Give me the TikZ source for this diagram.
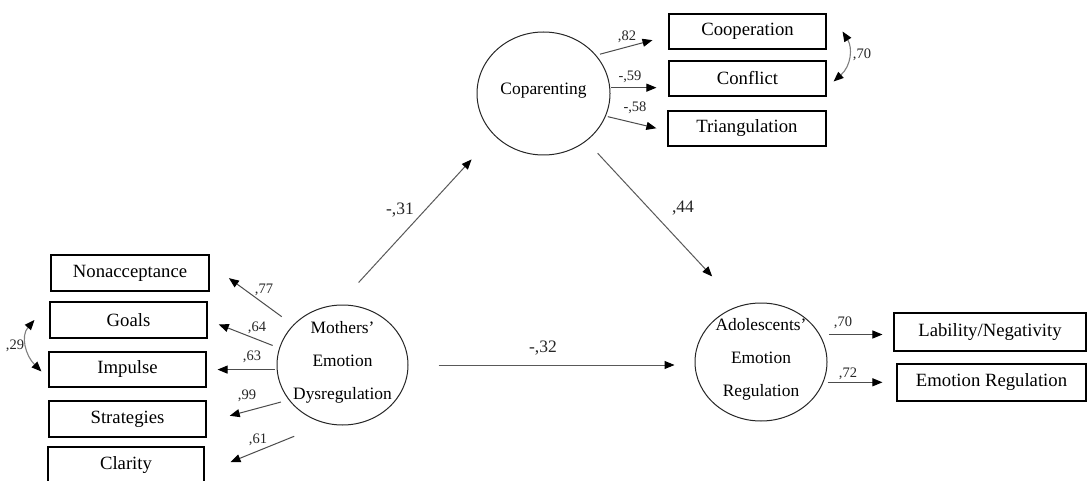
\documentclass[tikz,border=0pt]{standalone}
\usepackage{fontspec}
\setmainfont{Liberation Serif}
\usepackage{tikz}
\usetikzlibrary{shapes.geometric,arrows.meta}
\tikzset{>={Triangle[width=8pt,length=10pt,color=black]}}
\tikzset{
  obsbox/.style={shape=rectangle,draw=black,line width=1.1pt,minimum height=36pt,minimum width=157pt,inner sep=0pt,font=\fontsize{18.7}{22}\selectfont},
  latent/.style={shape=ellipse,draw=black!85,line width=1pt,inner sep=0pt},
  latentxt/.style={inner sep=0pt,align=center,font=\fontsize{17.4}{33}\selectfont},
  coefsmall/.style={inner sep=0pt,text=black!85,font=\fontsize{14.5}{16}\selectfont},
  coefbig/.style={inner sep=0pt,text=black!85,font=\fontsize{17.5}{20}\selectfont},
  loadarrow/.style={->,draw=black!70,line width=1pt},
  structarrow/.style={->,draw=black!65,line width=1pt},
  covarrow/.style={<->,draw=black!50,line width=1.1pt}
}

\begin{document}
\begin{tikzpicture}[x=1pt,y=-1pt]

\useasboundingbox (0,0) rectangle (1087,481);
\clip (0,0) rectangle (1087,481);
\fill[white] (0,0) rectangle (1087,481);

% latent variables
\path (342.5,365) node [latent,minimum width=131pt,minimum height=120pt,label={[latentxt,yshift=3pt]center:Mothers'\\Emotion\\Dysregulation}] (mdr) {};

\path (543.5,93.5) node [latent,minimum width=133pt,minimum height=123pt,label={[latentxt,yshift=3pt]center:Coparenting}] (cop) {};

\path (761,362) node [latent,minimum width=132pt,minimum height=118pt,label={[latentxt,yshift=3pt]center:Adolescents'\\Emotion\\Regulation}] (adol) {};

% indicators
\path (130,273) node [obsbox,minimum width=158pt] (nonacc) {Nonacceptance};

\path (128.5,320) node [obsbox] (goals) {Goals};

\path (127.5,369.5) node [obsbox,minimum height=35pt] (imp) {Impulse};

\path (127.5,419) node [obsbox] (strat) {Strategies};

\path (126,465) node [obsbox,minimum width=156pt] (clar) {Clarity};

\path (747.5,31.5) node [obsbox,minimum height=35pt] (coop) {Cooperation};

\path (747.5,78.5) node [obsbox,minimum height=35pt] (conf) {Conflict};

\path (747,128.5) node [obsbox,minimum width=158pt,minimum height=35pt] (tri) {Triangulation};

\path (990,332) node [obsbox,minimum width=192pt,minimum height=38pt] (lab) {Lability/Negativity};

\path (991.5,382.5) node [obsbox,minimum width=189pt,minimum height=37pt] (er) {Emotion Regulation};

% loadings
\draw[loadarrow,shorten <=14pt,shorten >=24pt] (mdr.141.6) -- ([yshift=9pt]nonacc.east);
\draw[loadarrow,shorten <=7pt,shorten >=12pt] (mdr.165.3) -- (goals.east);
\draw[loadarrow,shorten <=2pt,shorten >=11pt] (mdr.184.4) -- (mdr.184.4 -| imp.east);
\draw[loadarrow,shorten <=8pt,shorten >=24pt] (mdr.213.4) -- ([yshift=-3pt]strat.east);
\draw[loadarrow,shorten <=34pt,shorten >=28pt] (mdr.254.2) -- ([yshift=-7.6pt]clar.east);

\draw[loadarrow,shorten <=4pt,shorten >=16.5pt] (cop.36.1) -- ([yshift=-4.4pt]coop.west);
\draw[loadarrow,shorten <=1pt,shorten >=12pt] (cop.5.2) -- (cop.5.2 -| conf.west);
\draw[loadarrow,shorten <=2pt,shorten >=11.4pt] (cop.340.9) -- ([yshift=-2.4pt]tri.west);

\draw[loadarrow,shorten <=9pt,shorten >=11pt] (adol.25.7) -- (adol.25.7 -| lab.west);
\draw[loadarrow,shorten <=4pt,shorten >=14pt] (adol.342.1) -- (adol.342.1 -| er.west);

% structural paths
\draw[structarrow,shorten <=30pt,shorten >=33pt] (mdr.94) -- (cop.220.6);
\draw[structarrow,shorten <=16.5pt,shorten >=40pt] (cop.312.4) -- (adol.111.6);
\draw[structarrow,shorten <=30pt,shorten >=20pt] (mdr.east) -- (mdr.east -| adol.west);

% residual covariances
\draw[covarrow] ([xshift=16pt]coop.east) .. controls +(10,16) and +(18,-16) .. ([xshift=7pt,yshift=-3pt]conf.east);
\draw[covarrow] ([xshift=-15pt]goals.west) .. controls +(-14,16) and +(-16,-16) .. ([xshift=-7pt,yshift=-2pt]imp.west);

% coefficients
\path (264,290) node [coefsmall] (c77) {,77};
\path (257,328) node [coefsmall] (c64) {,64};
\path (252,357) node [coefsmall] (c63) {,63};
\path (247,396) node [coefsmall] (c99) {,99};
\path (258,440) node [coefsmall] (c61) {,61};
\path (15,346) node [coefsmall] (c29) {,29};

\path (627,37) node [coefsmall] (c82) {,82};
\path (630,77) node [coefsmall] (c59) {-,59};
\path (635,108) node [coefsmall] (c58) {-,58};
\path (862,55) node [coefsmall] (c70a) {,70};

\path (843,323) node [coefsmall] (c70b) {,70};
\path (848,374) node [coefsmall] (c72) {,72};

\path (400,210) node [coefbig] (c31) {-,31};
\path (683,208) node [coefbig] (c44) {,44};
\path (543,348) node [coefbig] (c32) {-,32};

\end{tikzpicture}
\end{document}
